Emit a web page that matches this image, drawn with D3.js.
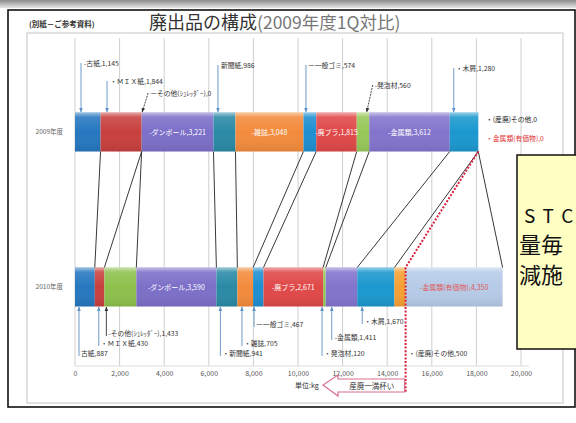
<!DOCTYPE html>
<html><head><meta charset="utf-8">
<script src="https://cdn.jsdelivr.net/npm/d3@7"></script>
<style>body{margin:0;background:#fff}svg{display:block}</style>
</head><body>
<script>
// ---- data ----
const categories = ["古紙","ＭＩＸ紙","その他(ｼｭﾚｯﾀﾞｰ)","ダンボール","新聞紙","雑誌","一般ゴミ","廃プラ","発泡材","金属類","木屑","(産廃)その他","金属類(有価物)"];
const years = ["2009年度","2010年度"];
const values2009 = [1145,1844,0,3221,986,3048,574,1815,560,3612,1280,0,0];
const values2010 = [887,430,1433,3590,941,705,467,2671,120,1411,1670,500,4350];
const tickValues = [0,2000,4000,6000,8000,10000,12000,14000,16000,18000,20000];
const titleMain = "廃出品の構成";
const titleSub = "(2009年度1Q対比)";
const noteText = "(別紙－ご参考資料)";
const unitText = "単位:kg";
const arrowText = "産廃一満杯い";
const calloutLines = ["S T C","量毎","減施"];

// ---- style / layout ----
const colors = ["#2677bf","#c8403e","#8dc04c","#7c6fc8","#2a8aa6","#f38b3c","#1f8fd0","#e04848","#98c859","#8374cc","#1b98cf","#f6a034","#b6cbe7"];
const W = 576, H = 423;
const FONT = "'Noto Sans CJK JP','Noto Sans',sans-serif";
const svg = d3.select("body").append("svg").attr("width",W).attr("height",H)
  .style("font-family",FONT);
const defs = svg.append("defs");

const x = d3.scaleLinear().domain([0,20000]).range([75,521]);
const y = d3.scalePoint().domain(years).range([132,287]);
const barH = 39;

// top gray band
const g0 = defs.append("linearGradient").attr("id","band").attr("x1",0).attr("x2",0).attr("y1",0).attr("y2",1);
g0.append("stop").attr("offset","0").attr("stop-color","#8a8a8a");
g0.append("stop").attr("offset","1").attr("stop-color","#e6e6e6");
svg.append("rect").attr("x",0).attr("y",0).attr("width",W).attr("height",8).attr("fill","url(#band)");

// outer black frame
svg.append("rect").attr("x",8).attr("y",10).attr("width",567).attr("height",397)
  .attr("fill","none").attr("stroke","#111").attr("stroke-width",1.6);
// inner box
svg.append("rect").attr("x",27).attr("y",33).attr("width",536).attr("height",370)
  .attr("fill","none").attr("stroke","#c4c4c4").attr("stroke-width",1);

// titles
svg.append("text").attr("x",29).attr("y",27).attr("font-size",7.5).attr("font-weight","bold")
  .attr("fill","#333").text(noteText);
const t = svg.append("text").attr("x",149).attr("y",29).attr("font-size",18);
t.append("tspan").attr("fill","#333").text(titleMain);
t.append("tspan").attr("fill","#777").attr("font-size",17.5).text(titleSub);

// gridlines
svg.append("g").selectAll("line").data(tickValues).join("line")
  .attr("x1",d=>x(d)).attr("x2",d=>x(d)).attr("y1",38).attr("y2",366)
  .attr("stroke","#cfcfcf").attr("stroke-width",1);
svg.append("line").attr("x1",x(0)).attr("x2",x(20000)+8).attr("y1",366).attr("y2",366)
  .attr("stroke","#dcdcdc");

// axis
const axis = d3.axisBottom(x).tickValues(tickValues).tickFormat(d3.format(",")).tickSize(0);
const ag = svg.append("g").attr("transform","translate(0,368)").call(axis);
ag.select(".domain").remove();
ag.selectAll("text").attr("font-size",7).attr("fill","#555").attr("font-family",FONT);

// year labels
svg.append("g").selectAll("text").data(years).join("text")
  .attr("x",63).attr("y",d=>y(d)+2).attr("text-anchor","end")
  .attr("font-size",6.5).attr("fill","#666").text(d=>d);

// stacked data
function stack(vals){let c=0;return vals.map((v,i)=>{const s=c;c+=v;return {i,v,s,e:c};});}
const s2009 = stack(values2009), s2010 = stack(values2010);

// highlight gradient
const hg = defs.append("linearGradient").attr("id","hl").attr("x1",0).attr("x2",0).attr("y1",0).attr("y2",1);
hg.append("stop").attr("offset","0").attr("stop-color","#fff").attr("stop-opacity",0.55);
hg.append("stop").attr("offset","0.12").attr("stop-color","#fff").attr("stop-opacity",0.12);
hg.append("stop").attr("offset","0.5").attr("stop-color","#fff").attr("stop-opacity",0);
hg.append("stop").attr("offset","1").attr("stop-color","#000").attr("stop-opacity",0.08);

function drawBar(data, yr){
  const top = y(yr)-barH/2;
  const g = svg.append("g");
  const segs = data.filter(d=>d.v>0);
  g.selectAll("rect.seg").data(segs).join("rect").attr("class","seg")
    .attr("x",d=>x(d.s)).attr("y",top).attr("width",d=>x(d.e)-x(d.s)).attr("height",barH)
    .attr("fill",d=>colors[d.i]);
  g.selectAll("rect.hl").data(segs).join("rect").attr("class","hl")
    .attr("x",d=>x(d.s)).attr("y",top).attr("width",d=>x(d.e)-x(d.s)).attr("height",barH)
    .attr("fill","url(#hl)");
}
drawBar(s2009, years[0]);
drawBar(s2010, years[1]);

const fmt = d3.format(",");
const lab = (i,v)=>categories[i]+","+fmt(v);

// inside labels
const inside2009 = [3,5,7,9], inside2010 = [3,7,12];
function insideLabels(data, idx, yr){
  svg.append("g").selectAll("text").data(idx.map(i=>data[i])).join("text")
    .attr("x",d=>(x(d.s)+x(d.e))/2).attr("y",y(yr)+2.5).attr("text-anchor","middle")
    .attr("font-size",7).attr("fill",d=>d.i===12?"#e05a5a":"#fff")
    .text(d=>"-"+lab(d.i,d.v));
}
insideLabels(s2009, inside2009, years[0]);
insideLabels(s2010, inside2010, years[1]);

// connectors
const top2010 = y(years[1])-barH/2, bot2009 = y(years[0])+barH/2;
const conn = d3.range(categories.length);
svg.append("g").selectAll("line").data(conn.filter(i=>i!==11)).join("line")
  .attr("x1",i=>x(s2009[i].e)).attr("y1",bot2009)
  .attr("x2",i=>x(s2010[i].e)).attr("y2",top2010)
  .attr("stroke","#222").attr("stroke-width",0.9);
// red dotted line for (産廃)その他
const rx = x(s2010[11].e);
svg.append("path")
  .attr("d",`M${x(s2009[11].e)},${bot2009}L${rx},${top2010}L${rx},393`)
  .attr("fill","none").attr("stroke","#d6203c").attr("stroke-width",2).attr("stroke-dasharray","2,1.6");

// arrow markers
function marker(id,color){
  defs.append("marker").attr("id",id).attr("viewBox","0 0 10 10").attr("refX",9).attr("refY",5)
    .attr("markerWidth",5).attr("markerHeight",5).attr("orient","auto-start-reverse")
    .append("path").attr("d","M0,1L10,5L0,9Z").attr("fill",color);
}
marker("ab","#5d92c6"); marker("ad","#333");

// annotations (layout): idx, arrow x offset from segment start, label y, label dx, slant, dark
const ann2009 = [
  {i:0, dx:6, ly:65, lx:3, sl:0, dark:false, pre:"-"},
  {i:1, dx:6.5, ly:83, lx:3, sl:0, dark:false, pre:"・"},
  {i:2, dx:0.5, ly:95, lx:8, sl:6, dark:true, pre:"ー"},
  {i:4, dx:4.5, ly:67, lx:3, sl:0, dark:false, pre:""},
  {i:6, dx:2.5, ly:67, lx:2, sl:0, dark:false, pre:"ー"},
  {i:8, dx:10, ly:87, lx:8, sl:6, dark:true, pre:"-"},
  {i:10, dx:4, ly:70, lx:2, sl:0, dark:false, pre:"・"}
];
const ann2010 = [
  {i:0, dx:4, ly:354, lx:2, sl:0, dark:false, pre:""},
  {i:1, dx:4, ly:344, lx:2, sl:0, dark:false, pre:"・"},
  {i:2, dx:2, ly:334, lx:2, sl:0, dark:true, pre:"-"},
  {i:4, dx:4, ly:354, lx:2, sl:0, dark:false, pre:"・"},
  {i:5, dx:4.6, ly:344, lx:2, sl:0, dark:false, pre:"・"},
  {i:6, dx:1, ly:325, lx:2, sl:0, dark:false, pre:"ー"},
  {i:8, dx:-1, ly:354, lx:2, sl:0, dark:false, pre:"・"},
  {i:9, dx:6, ly:338, lx:3, sl:0, dark:false, pre:"-"},
  {i:10, dx:5, ly:322, lx:2, sl:0, dark:false, pre:"・"}
];
const annG = svg.append("g");
ann2009.forEach(a=>{
  const d = s2009[a.i]; const ax = x(d.s)+a.dx;
  annG.append("path").attr("d",`M${ax+a.sl},${a.ly-2}L${ax},${bot2009-barH-0.5}`)
    .attr("stroke",a.dark?"#333":"#5d92c6").attr("stroke-width",0.9).attr("fill","none")
    .attr("stroke-dasharray",a.dark?"2,1":null)
    .attr("marker-end",`url(#${a.dark?"ad":"ab"})`);
  annG.append("text").attr("x",ax+a.lx).attr("y",a.ly+1).attr("font-size",6.8).attr("fill","#333")
    .text(a.pre+lab(a.i,d.v));
});
ann2010.forEach(a=>{
  const d = s2010[a.i]; const ax = x(d.s)+a.dx;
  annG.append("path").attr("d",`M${ax},${a.ly+2}L${ax},${top2010+barH+0.5}`)
    .attr("stroke",a.dark?"#333":"#5d92c6").attr("stroke-width",0.9).attr("fill","none")
    .attr("marker-end",`url(#${a.dark?"ad":"ab"})`);
  annG.append("text").attr("x",ax+a.lx).attr("y",a.ly+2).attr("font-size",6.8).attr("fill","#333")
    .text(a.pre+lab(a.i,d.v));
});
// zero-value labels right of 2009 bar
annG.append("text").attr("x",486).attr("y",122).attr("font-size",6.8).attr("fill","#222").text("・"+lab(11,values2009[11]));
annG.append("text").attr("x",486).attr("y",141).attr("font-size",6.8).attr("fill","#e03030").text("・"+lab(12,values2009[12]));
// (産廃)その他 2010 label
annG.append("text").attr("x",rx+3).attr("y",356).attr("font-size",6.8).attr("fill","#333").text("・"+lab(11,values2010[11]));

// unit & arrow
svg.append("text").attr("x",295).attr("y",388).attr("font-size",7).attr("fill","#333").text(unitText);
svg.append("path").attr("d",`M323,385L338,375L338,379L${rx-1},379L${rx-1},392L338,392L338,396Z`)
  .attr("fill","#fff").attr("stroke","#d8708e").attr("stroke-width",1.2);
svg.append("text").attr("x",(338+rx)/2).attr("y",388.5).attr("text-anchor","middle")
  .attr("font-size",7.5).attr("fill","#333").text(arrowText);

// callout
svg.append("rect").attr("x",517).attr("y",155).attr("width",70).attr("height",194)
  .attr("fill","#ffffc4").attr("stroke","#111").attr("stroke-width",1.5);
svg.append("text").attr("x",524).attr("y",223).attr("font-size",19).attr("fill","#111")
  .attr("letter-spacing","1.5").text(calloutLines[0]);
svg.append("text").attr("x",519).attr("y",253).attr("font-size",22).attr("fill","#111").text(calloutLines[1]);
svg.append("text").attr("x",519).attr("y",283).attr("font-size",22).attr("fill","#111").text(calloutLines[2]);
</script>
</body></html>
